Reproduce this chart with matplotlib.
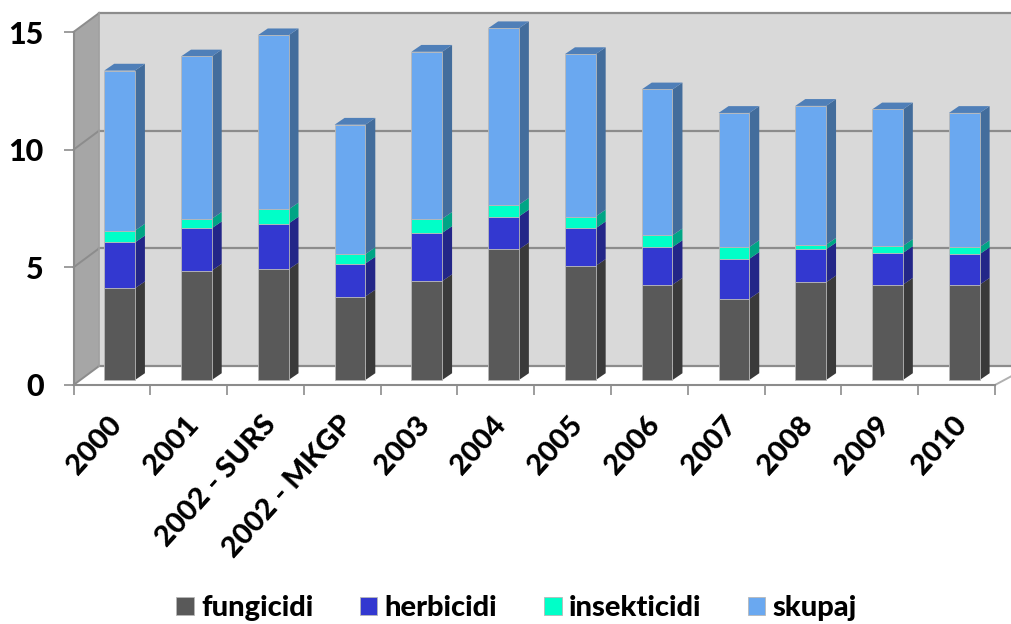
import numpy as np
import matplotlib
matplotlib.use('Agg')
import matplotlib.pyplot as plt
from matplotlib.patches import Polygon
from matplotlib.transforms import ScaledTranslation

plt.rcParams['font.family'] = ['Lato', 'DejaVu Sans']

leta = ['2000', '2001', '2002 - SURS', '2002 - MKGP', '2003', '2004',
        '2005', '2006', '2007', '2008', '2009', '2010']
fungicidi = [3.9, 4.65, 4.7, 3.55, 4.2, 5.55, 4.85, 4.05, 3.45, 4.15, 4.05, 4.05]
herbicidi = [1.95, 1.8, 1.95, 1.4, 2.05, 1.4, 1.6, 1.6, 1.7, 1.4, 1.35, 1.3]
insekticidi = [0.5, 0.4, 0.6, 0.4, 0.6, 0.5, 0.5, 0.5, 0.5, 0.2, 0.3, 0.3]
skupaj = [6.8, 6.9, 7.4, 5.5, 7.1, 7.5, 6.9, 6.2, 5.7, 5.9, 5.8, 5.7]

serije = [('fungicidi', fungicidi, '#595959', '#3a3a3a', '#3a3a3a'),
          ('herbicidi', herbicidi, '#3338d0', '#232688', '#232688'),
          ('insekticidi', insekticidi, '#00ffc8', '#00a585', '#00a585'),
          ('skupaj', skupaj, '#6aa8f0', '#436d9c', '#4f7fb8')]

# globina 3d grafa, v enotah osi
globina_x = 0.335
globina_y = 0.81
stolpec_dx = 0.1
stolpec_dy = 0.21
sirina = 0.4
stran_x = 0.13
stran_y = 0.29

fig = plt.figure(figsize=(10.11, 6.24), dpi=100)
ax = fig.add_axes([73.5 / 1011, 1 - 385 / 624, 921.5 / 1011, 353 / 624])
ax.set_xlim(-0.5, 11.5)
ax.set_ylim(0, 15)

# stene
ax.add_patch(Polygon([(-0.5 + globina_x, globina_y), (11.8, globina_y), (11.8, 15 + globina_y),
                      (-0.5 + globina_x, 15 + globina_y)], fc='#d9d9d9', ec='none', clip_on=False, zorder=0))
ax.add_patch(Polygon([(-0.5, 0), (-0.5 + globina_x, globina_y), (-0.5 + globina_x, 15 + globina_y), (-0.5, 15)],
                     fc='#a6a6a6', ec='none', clip_on=False, zorder=0.5))
ax.add_patch(Polygon([(-0.5, 0), (11.5, 0), (11.8, globina_y * 0.65), (11.8, globina_y), (-0.5 + globina_x, globina_y)],
                     fc='white', ec='none', clip_on=False, zorder=0.6))
for v in [0, 5, 10, 15]:
    ax.plot([-0.5 + globina_x, 11.8], [v + globina_y] * 2, color='#8c8c8c', lw=1.6, clip_on=False, zorder=1)
    ax.plot([-0.5, -0.5 + globina_x], [v, v + globina_y], color='#8c8c8c', lw=1.4, clip_on=False, zorder=1)
ax.plot([-0.5 + globina_x] * 2, [globina_y, 15 + globina_y], color='#a0a0a0', lw=1.2, clip_on=False, zorder=1)
ax.plot([11.5, 11.8], [0, globina_y * 0.65], color='#b0b0b0', lw=1.4, clip_on=False, zorder=1)

# stolpci
x = np.arange(len(leta))
dno = np.zeros(len(leta))
rocice = []
for ime, vrednosti, barva, stran, vrh in serije:
    vrednosti = np.array(vrednosti)
    gor = dno + vrednosti
    r = ax.bar(x + stolpec_dx, vrednosti, sirina, bottom=dno + stolpec_dy, color=barva,
               edgecolor='#b8b8b8', linewidth=0.6, label=ime, zorder=3, clip_on=False)
    rocice.append(r)
    desno = x + stolpec_dx + sirina / 2
    for xd, d, g in zip(desno, dno + stolpec_dy, gor + stolpec_dy):
        ax.add_patch(Polygon([(xd, d), (xd + stran_x, d + stran_y), (xd + stran_x, g + stran_y), (xd, g)],
                             fc=stran, ec='none', zorder=2, clip_on=False))
    dno = gor

# pokrov zadnjega stolpca
for xd, g in zip(x + stolpec_dx + sirina / 2, dno + stolpec_dy):
    ax.add_patch(Polygon([(xd - sirina, g), (xd, g), (xd + stran_x, g + stran_y), (xd - sirina + stran_x, g + stran_y)],
                         fc=serije[-1][4], ec='none', zorder=2, clip_on=False))

for s in ['top', 'right']:
    ax.spines[s].set_visible(False)
for s in ['left', 'bottom']:
    ax.spines[s].set_color('#8c8c8c')
    ax.spines[s].set_linewidth(1.5)
    ax.spines[s].set_zorder(1.5)

ax.set_yticks([0, 5, 10, 15])
ax.set_xticks(x)
ax.set_xticklabels(leta, rotation=48, ha='right', rotation_mode='anchor')
ax.set_xticks(np.arange(-0.5, 12), minor=True)
ax.tick_params(axis='x', which='major', length=0, pad=19, labelsize=21)
ax.tick_params(axis='x', which='minor', length=7.5, width=1.2, color='#8c8c8c')
ax.tick_params(axis='y', length=7.5, width=1.2, color='#8c8c8c', pad=14, labelsize=22)
premik = ScaledTranslation(-4 / 100, 0, fig.dpi_scale_trans)
for t in ax.get_xticklabels():
    t.set_transform(t.get_transform() + premik)
for t in ax.get_xticklabels() + ax.get_yticklabels():
    t.set_fontweight('black')
    t.set_color('black')

fig.legend(handles=rocice, loc='lower center', bbox_to_anchor=(0.511, -0.038), ncol=4, frameon=False,
           handlelength=0.6, handleheight=0.6, handletextpad=0.25, columnspacing=1.6,
           prop={'weight': 'black', 'size': 21})

plt.savefig('out.png', dpi=100)
